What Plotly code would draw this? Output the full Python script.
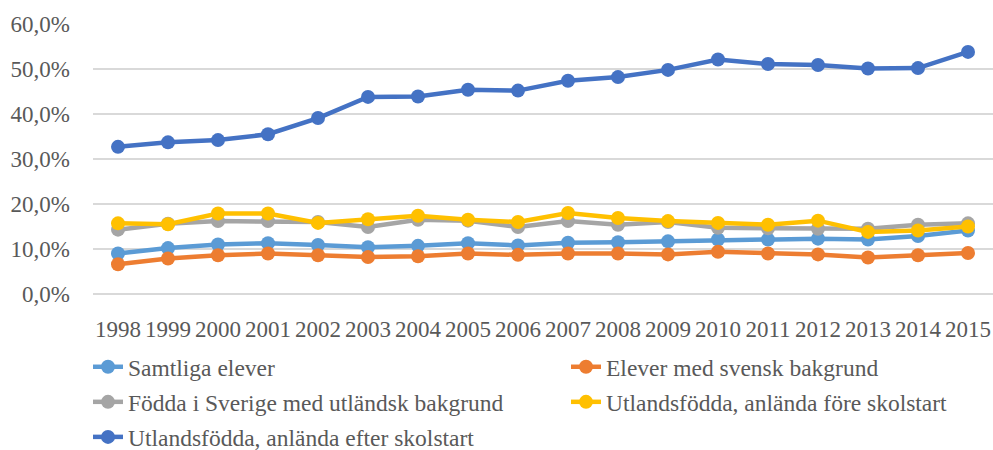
import plotly.graph_objects as go

years = [str(y) for y in range(1998, 2016)]

samtliga = [9.0, 10.2, 11.0, 11.3, 10.9, 10.4, 10.7, 11.3, 10.8, 11.4, 11.5, 11.7, 12.1, 12.1, 12.3, 12.1, 12.9, 14.1]
svensk = [6.6, 7.9, 8.6, 9.0, 8.6, 8.2, 8.4, 9.0, 8.7, 9.0, 9.0, 8.8, 9.4, 9.0, 8.8, 8.1, 8.6, 9.1]
fodda_sverige = [14.3, 15.6, 16.2, 16.2, 16.0, 14.9, 16.5, 16.3, 14.9, 16.2, 15.4, 16.0, 14.7, 14.6, 14.5, 14.5, 15.4, 15.7]
fore_skolstart = [15.7, 15.5, 17.9, 17.9, 15.8, 16.6, 17.4, 16.5, 16.0, 18.0, 16.9, 16.2, 15.8, 15.4, 16.3, 13.8, 14.1, 15.0]
efter_skolstart = [32.7, 33.7, 34.2, 35.5, 39.1, 43.8, 43.9, 45.4, 45.2, 47.4, 48.2, 49.8, 52.1, 51.1, 50.9, 50.1, 50.2, 53.8]

names = [
    "Samtliga elever",
    "Elever med svensk bakgrund",
    "Födda i Sverige med utländsk bakgrund",
    "Utlandsfödda, anlända före skolstart",
    "Utlandsfödda, anlända efter skolstart",
]
series = [samtliga, svensk, fodda_sverige, fore_skolstart, efter_skolstart]
colors = ["#5B9BD5", "#ED7D31", "#A5A5A5", "#FFC000", "#4472C4"]
legend_ids = ["legend", "legend2", "legend", "legend2", "legend"]

FONT = "Liberation Serif, Times New Roman, serif"
TXT = "#595959"

fig = go.Figure()
for i, (name, vals, col, lg) in enumerate(zip(names, series, colors, legend_ids)):
    fig.add_trace(go.Scatter(
        x=years, y=vals, name=name, mode="lines+markers",
        line=dict(color=col, width=4.5),
        marker=dict(color=col, size=14),
        legend=lg, legendgroup=f"g{i}",
    ))

legend_common = dict(
    xref="container", yref="container", xanchor="left", yanchor="top",
    y=1 - 345 / 450, orientation="v", bgcolor="rgba(0,0,0,0)",
    font=dict(family=FONT, size=23.5, color=TXT),
    traceorder="grouped", tracegroupgap=1.5,
)

fig.update_layout(
    width=993, height=450,
    margin=dict(l=93, r=0, t=23.5, b=155.5, autoexpand=False),
    paper_bgcolor="white", plot_bgcolor="white",
    separators=",.",
    font=dict(family=FONT, size=23, color=TXT),
    showlegend=True,
    legend=dict(x=88 / 993, **legend_common),
    legend2=dict(x=566 / 993, **legend_common),
)
fig.update_xaxes(
    type="category", range=[-0.5, 17.5],
    showgrid=False, showline=False, zeroline=False, automargin=False,
    ticks="", ticklabelstandoff=19,
    tickfont=dict(family=FONT, size=23, color=TXT),
)
fig.update_yaxes(
    range=[0, 60], dtick=10, tickformat=".1f", ticksuffix="%",
    showgrid=True, gridcolor="#D9D9D9", gridwidth=1.5,
    zeroline=True, zerolinecolor="#D9D9D9", zerolinewidth=1.5,
    showline=False, ticks="", ticklabelstandoff=22, automargin=False,
    tickfont=dict(family=FONT, size=23, color=TXT),
)

fig.write_html(
    "out.html",
    config={"displayModeBar": False},
    post_script="document.body.style.margin='0';document.body.style.overflow='hidden';",
)
